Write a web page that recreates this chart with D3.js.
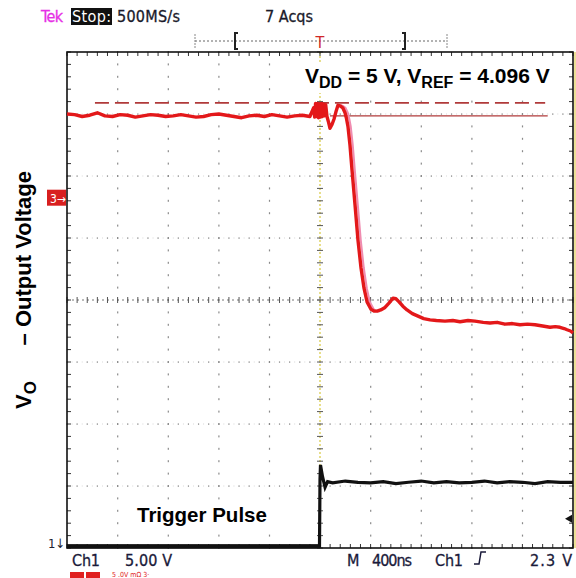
<!DOCTYPE html>
<html><head><meta charset="utf-8">
<script src="https://cdn.jsdelivr.net/npm/d3@7"></script>
<style>
html,body{margin:0;padding:0;background:#fff;}
svg{display:block;}
</style></head>
<body>
<svg id="c" width="576" height="578"></svg>
<script>
// ---- data ----
// Ch3 (output voltage), time in ns, value in screen divisions
const ch3TimeNs = [-2000,-1940,-1880,-1820,-1760,-1700,-1640,-1580,-1520,-1460,-1400,-1340,-1280,-1220,-1160,-1100,-1040,-980,-920,-860,-800,-740,-680,-620,-560,-500,-440,-380,-320,-260,-200,-140,-80,
  -50,-42,-35,-28,-20,-12,-5,5,12,20,28,36,45,55,66,79,95,111,128,142,160,180,198,210,221,237,253,277,300,324,348,372,403,430,451,480,514,545,577,600,625,655,688,730,775,820,870,920,988,1050,1107,1170,1225,1290,1344,1400,1462,1520,1581,1640,1700,1760,1818,1860,1897,1930,1953,1980,2000];
const ch3Div    = [3.00,2.99,2.96,2.98,3.02,2.97,2.96,2.99,2.98,2.95,2.97,2.99,2.98,2.96,2.97,2.99,2.97,2.95,2.96,2.99,3.00,2.98,2.96,2.94,2.97,2.98,2.96,2.99,2.97,2.95,2.97,2.98,2.96,
  3.10,2.95,3.17,2.96,3.17,2.94,3.16,2.95,3.17,2.96,3.16,2.97,3.15,2.96,2.88,2.77,2.83,2.92,3.05,3.14,3.13,3.10,3.02,2.92,2.80,2.50,2.10,1.53,0.97,0.52,0.19,-0.03,-0.15,-0.18,-0.18,-0.16,-0.12,-0.05,0.03,0.02,-0.03,-0.10,-0.16,-0.22,-0.26,-0.30,-0.32,-0.33,-0.34,-0.33,-0.35,-0.33,-0.34,-0.36,-0.37,-0.36,-0.39,-0.38,-0.40,-0.39,-0.40,-0.42,-0.44,-0.43,-0.44,-0.46,-0.48,-0.50,-0.53];
// Ch1 (trigger pulse)
const ch1TimeNs = [-2000,-4,0,4,20,40,60,100,200,300,400,500,600,700,800,900,1000,1100,1200,1300,1400,1500,1600,1700,1800,1900,2000];
const ch1Div    = [-3.97,-3.97,-2.9,-2.66,-2.85,-3.02,-2.93,-2.95,-2.92,-2.94,-2.95,-2.93,-2.96,-2.94,-2.92,-2.95,-2.93,-2.95,-2.94,-2.92,-2.95,-2.93,-2.94,-2.96,-2.93,-2.94,-2.94];
// cursors
const cursorDashed = {level: 3.18, from: -1779, to: 1780};
const cursorSolid  = {level: 2.97, from: 79, to: 1800};
// axis settings
const timeDomain = [-2000, 2000];   // 400 ns/div, 10 div
const divDomain  = [-4, 4];         // 8 div
const headerTexts = ["Tek", "Stop:", "500MS/s", "7 Acqs"];
const footerTexts = ["Ch1", "5.00 V", "M", "400ns", "Ch1", "2.3 V"];
const annotation = ["V", "DD", " = 5 V, V", "REF", " = 4.096 V"];
const yLabel = ["V", "O", "\u2013 Output Voltage"];
const pulseLabel = "Trigger Pulse";

// ---- drawing ----
const svg = d3.select("#c");
const L=67, R=573, T=52, B=548;
const x = d3.scaleLinear().domain(timeDomain).range([L,R]);
const y = d3.scaleLinear().domain(divDomain).range([B,T]);
const scopeFont = "'DejaVu Sans Condensed','Liberation Sans Narrow','DejaVu Sans',sans-serif";
const boldFont = "'Liberation Sans',Arial,sans-serif";

const majorX = d3.range(-2000, 2001, 400);
const majorY = d3.range(-4, 4.01, 1);
const minorX = d3.range(-2000, 2000.1, 80);
const minorY = d3.range(-4, 4.001, 0.2);

const g = svg.append("g");
// grid dots
const gridG = g.append("g").attr("fill", "#8a8a8a");
majorX.slice(1,-1).forEach(t => {
  if (t === 0) return;
  minorY.forEach(v => gridG.append("rect").attr("x", x(t)-0.5).attr("y", y(v)-1).attr("width",1.2).attr("height",2));
});
majorY.slice(1,-1).forEach(v => {
  if (v === 0) return;
  minorX.forEach(t => gridG.append("rect").attr("x", x(t)-0.6).attr("y", y(v)-0.5).attr("width",1.2).attr("height",1.2));
  d3.range(-2000,2000,40).forEach(t => gridG.append("rect").attr("x", x(t)-0.4).attr("y", y(v)-0.4).attr("width",0.8).attr("height",0.8).attr("opacity",0.5));
});
// center lines
g.append("line").attr("x1",L).attr("x2",R).attr("y1",y(0)).attr("y2",y(0))
  .attr("stroke","#777").attr("stroke-dasharray","2,3").attr("stroke-width",1);
g.append("line").attr("x1",x(0)).attr("x2",x(0)).attr("y1",T).attr("y2",B)
  .attr("stroke","#d8c840").attr("stroke-dasharray","2,2").attr("stroke-width",1.2);
minorX.forEach(t => g.append("line").attr("x1",x(t)).attr("x2",x(t)).attr("y1",y(0)-3).attr("y2",y(0)+3).attr("stroke","#555").attr("stroke-width",1));
minorY.forEach(v => g.append("line").attr("x1",x(0)-3).attr("x2",x(0)+3).attr("y1",y(v)).attr("y2",y(v)).attr("stroke","#555").attr("stroke-width",1));
// frame ticks
minorX.forEach(t => {
  g.append("line").attr("x1",x(t)).attr("x2",x(t)).attr("y1",T).attr("y2",T+4).attr("stroke","#333");
  g.append("line").attr("x1",x(t)).attr("x2",x(t)).attr("y1",B).attr("y2",B-4).attr("stroke","#333");
});
minorY.forEach(v => {
  g.append("line").attr("x1",L).attr("x2",L+4).attr("y1",y(v)).attr("y2",y(v)).attr("stroke","#333");
  g.append("line").attr("x1",R).attr("x2",R-4).attr("y1",y(v)).attr("y2",y(v)).attr("stroke","#333");
});
// frame
g.append("rect").attr("x",L).attr("y",T).attr("width",R-L).attr("height",B-T)
  .attr("fill","none").attr("stroke","#111").attr("stroke-width",1.6);
g.append("line").attr("x1",R+2).attr("x2",R+2).attr("y1",T).attr("y2",B).attr("stroke","#e0cc50").attr("stroke-width",1.2);

// cursors
g.append("line").attr("x1",x(cursorDashed.from)).attr("x2",x(cursorDashed.to))
  .attr("y1",y(cursorDashed.level)).attr("y2",y(cursorDashed.level))
  .attr("stroke","#b03a3a").attr("stroke-width",1.6).attr("stroke-dasharray","14,6");
g.append("line").attr("x1",x(cursorSolid.from)).attr("x2",x(cursorSolid.to))
  .attr("y1",y(cursorSolid.level)).attr("y2",y(cursorSolid.level))
  .attr("stroke","#b03a3a").attr("stroke-width",1.4);

// traces
const line = d3.line().x(d=>x(d[0])).y(d=>y(d[1]));
const ch3 = ch3TimeNs.map((t,i)=>[t, ch3Div[i]]);
const ch1 = ch1TimeNs.map((t,i)=>[t, ch1Div[i]]);
const edge = ch3.filter(d => d[0] >= 142 && d[0] <= 451).map(d => [d[0]+22, d[1]]);
g.append("path").attr("d", line(edge)).attr("fill","none").attr("stroke","#f08cb0").attr("stroke-width",2);
g.append("path").attr("d", line(ch3)).attr("fill","none").attr("stroke","#e3181a").attr("stroke-width",3.4).attr("stroke-linejoin","round");
g.append("path").attr("d", line(ch1)).attr("fill","none").attr("stroke","#111").attr("stroke-width",3.2);
g.append("line").attr("x1",x(-2000)).attr("x2",x(0)).attr("y1",y(-3.97)).attr("y2",y(-3.97)).attr("stroke","#111").attr("stroke-width",4);

// markers
const m3 = g.append("g").attr("transform",`translate(47,${y(1.65)})`);
m3.append("rect").attr("x",0).attr("y",-8).attr("width",19).attr("height",16).attr("fill","#d81f1f");
m3.append("text").attr("x",3).attr("y",5).attr("fill","#fff").attr("font-family",scopeFont).attr("font-size",12).text("3\u2192");
g.append("text").attr("x",48).attr("y",548).attr("fill","#223").attr("font-family",scopeFont).attr("font-size",13).text("1\u2193");
const ay = y(-3.53);
g.append("path").attr("d",`M${R-1},${ay-4} L${R-8},${ay} L${R-1},${ay+4} Z`).attr("fill","#111");

// header
const hdr = svg.append("g").attr("font-family",scopeFont).attr("font-size",16);
hdr.append("text").attr("x",41).attr("y",22).attr("fill","#e62ee6").attr("stroke","#e62ee6").attr("stroke-width",0.3).attr("textLength",22).text(headerTexts[0]);
hdr.append("rect").attr("x",71).attr("y",8).attr("width",41).attr("height",17).attr("fill","#111");
hdr.append("text").attr("x",72).attr("y",22).attr("fill","#fff").attr("textLength",39).text(headerTexts[1]);
hdr.append("text").attr("x",117).attr("y",22).attr("fill","#1a1a2a").attr("stroke","#1a1a2a").attr("stroke-width",0.3).attr("textLength",63).text(headerTexts[2]);
hdr.append("text").attr("x",265).attr("y",22).attr("fill","#1a1a2a").attr("stroke","#1a1a2a").attr("stroke-width",0.3).attr("textLength",48).text(headerTexts[3]);
// record bracket
hdr.append("line").attr("x1",195).attr("x2",447).attr("y1",41).attr("y2",41).attr("stroke","#666").attr("stroke-dasharray","2,2");
[195,447].forEach(px => hdr.append("line").attr("x1",px).attr("x2",px).attr("y1",34).attr("y2",48).attr("stroke","#888").attr("stroke-dasharray","2,1"));
hdr.append("path").attr("d","M238,33 L235,33 L235,49 L238,49").attr("fill","none").attr("stroke","#222").attr("stroke-width",2);
hdr.append("path").attr("d","M402,33 L405,33 L405,49 L402,49").attr("fill","none").attr("stroke","#222").attr("stroke-width",2);
hdr.append("text").attr("x",x(0)).attr("y",48).attr("text-anchor","middle").attr("fill","#d02828").attr("font-size",16).text("T");

// footer
const ft = svg.append("g").attr("font-family",scopeFont).attr("font-size",16).attr("fill","#1a1a3a").attr("stroke","#1a1a3a").attr("stroke-width",0.3);
ft.append("text").attr("x",72).attr("y",566).attr("textLength",28).text(footerTexts[0]);
ft.append("text").attr("x",125).attr("y",566).attr("textLength",47).text(footerTexts[1]);
ft.append("text").attr("x",347).attr("y",566).attr("textLength",14).text(footerTexts[2]);
ft.append("text").attr("x",372).attr("y",566).attr("textLength",40).text(footerTexts[3]);
ft.append("text").attr("x",435).attr("y",566).attr("textLength",28).text(footerTexts[4]);
ft.append("path").attr("d","M474,564 L479,564 L481,552 L486,552").attr("fill","none").attr("stroke","#1a1a3a").attr("stroke-width",1.5);
ft.append("text").attr("x",530).attr("y",566).attr("textLength",42).text(footerTexts[5]);
svg.append("rect").attr("x",70).attr("y",572).attr("width",14).attr("height",8).attr("fill","#e02020");
svg.append("rect").attr("x",86).attr("y",572).attr("width",14).attr("height",8).attr("fill","#e02020");
svg.append("text").attr("x",112).attr("y",577).attr("fill","#e02020").attr("font-family",scopeFont).attr("font-size",7).text("5  .0V  m\u03a9  3\u00b7");

// annotation
const ann = svg.append("g");
ann.append("rect").attr("x",302).attr("y",63).attr("width",258).attr("height",30).attr("fill","#fff");
const at = ann.append("text").attr("x",305).attr("y",83).attr("font-family",boldFont).attr("font-weight","bold").attr("font-size",21).attr("fill","#000");
at.append("tspan").text(annotation[0]);
at.append("tspan").attr("dy",5).attr("font-size",16).text(annotation[1]);
at.append("tspan").attr("dy",-5).text(annotation[2]);
at.append("tspan").attr("dy",5).attr("font-size",16).text(annotation[3]);
at.append("tspan").attr("dy",-5).text(annotation[4]);

// y label
const yl1 = svg.append("text").attr("transform","translate(31,409) rotate(-90)")
  .attr("font-family",boldFont).attr("font-weight","bold").attr("font-size",22).attr("fill","#000");
yl1.append("tspan").text(yLabel[0]);
yl1.append("tspan").attr("dy",5).attr("font-size",17).text(yLabel[1]);
svg.append("text").attr("transform","translate(31,171) rotate(-90)").attr("text-anchor","end")
  .attr("font-family",boldFont).attr("font-weight","bold").attr("font-size",22).attr("fill","#000").text(yLabel[2]);

// trigger pulse label
svg.append("rect").attr("x",133).attr("y",502).attr("width",140).attr("height",27).attr("fill","#fff");
svg.append("text").attr("x",137).attr("y",522).attr("font-family",boldFont).attr("font-weight","bold").attr("font-size",20.5).attr("fill","#000").text(pulseLabel);
</script>
</body></html>
